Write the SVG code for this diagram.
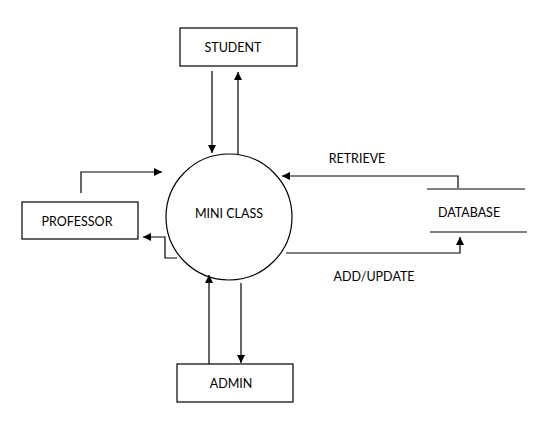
<svg xmlns="http://www.w3.org/2000/svg" width="549" height="434" viewBox="0 0 549 434">
<style>
.box{fill:#fff;stroke:#000;stroke-width:1.2}
.t{font-family:Lato,"Open Sans","Liberation Sans",sans-serif;font-size:12.5px;fill:#000;text-anchor:middle;dominant-baseline:central}
.c{fill:none;stroke:#000;stroke-width:1.2}
</style>
<defs>
<marker id="a" viewBox="0 0 10 10" refX="10" refY="5" markerWidth="8" markerHeight="8" markerUnits="userSpaceOnUse" orient="auto">
<path d="M0,0 L10,5 L0,10 z" fill="#000"/>
</marker>
</defs>
<rect width="549" height="434" fill="#fff"/>
<g id="student"><rect class="box" x="180" y="28" width="117" height="38"/><text class="t" x="233" y="47">STUDENT</text></g>
<g id="professor"><rect class="box" x="22" y="202" width="116" height="37"/><text class="t" x="77" y="221">PROFESSOR</text></g>
<g id="miniclass"><circle class="box" cx="229" cy="217" r="63" stroke-width="1"/><text class="t" x="229" y="213">MINI CLASS</text></g>
<g id="database"><line class="c" x1="427" y1="189" x2="525" y2="189"/><line class="c" x1="430" y1="232" x2="527" y2="232"/><text class="t" x="469" y="212">DATABASE</text></g>
<g id="admin"><rect class="box" x="177" y="364" width="116" height="38"/><text class="t" x="231" y="383">ADMIN</text></g>
<g id="connectors">
<path class="c" d="M212,71 V153" marker-end="url(#a)"/>
<path class="c" d="M238,155 V72" marker-end="url(#a)"/>
<path class="c" d="M81,193 V172 H162" marker-end="url(#a)"/>
<path class="c" d="M177,258 H165 V237 H143" marker-end="url(#a)"/>
<path class="c" d="M458,188 V176 H282" marker-end="url(#a)"/>
<path class="c" d="M286,253 H460 V237" marker-end="url(#a)"/>
<path class="c" d="M209,364 V275" marker-end="url(#a)"/>
<path class="c" d="M241,283 V363" marker-end="url(#a)"/>
<text class="t" x="357" y="158">RETRIEVE</text>
<text class="t" x="374" y="276">ADD/UPDATE</text>
</g>
</svg>
